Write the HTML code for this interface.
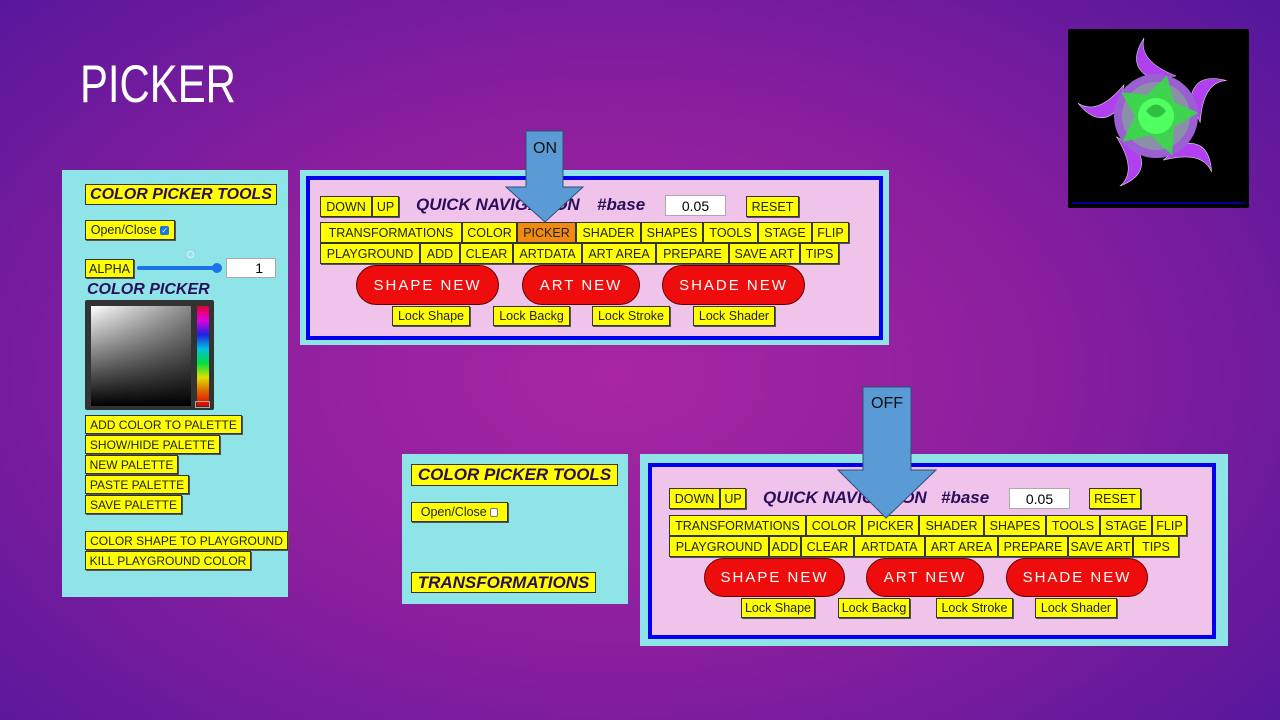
<!DOCTYPE html>
<html><head><meta charset="utf-8"><style>
*{box-sizing:border-box;margin:0;padding:0}
body{width:1280px;height:720px;overflow:hidden;position:relative;font-family:"Liberation Sans",sans-serif;
background:radial-gradient(ellipse 75% 85% at 48% 52%,#a826a2 0%,#8a1f9e 45%,#5c189c 85%,#4e169a 100%)}
.a{position:absolute}
.b{position:absolute;background:#ffff00;border:1.5px solid #333;font-size:12.5px;color:#222;display:flex;align-items:center;justify-content:center;white-space:nowrap;box-shadow:1px 1px 0 #555;overflow:hidden}
.p{position:absolute;background:#ee0c0c;border:1px solid #600;border-radius:20px;color:#fff;font-size:15px;letter-spacing:2px;display:flex;align-items:center;justify-content:center;white-space:nowrap}
.t{position:absolute;font-weight:bold;font-style:italic;color:#2a0e5a;white-space:nowrap}
.in{position:absolute;background:#fff;border:1px solid #aaa;font-size:14px;display:flex;align-items:center;justify-content:center}
.cy{position:absolute;background:#8fe4e8}
.pk{position:absolute;background:#f0c4ea;border:4px solid #0000ee}
.ttl{position:absolute;background:#ffff00;border:1.5px solid #333;font-weight:bold;font-style:italic;color:#2a0e5a;font-size:16px;display:flex;align-items:center;justify-content:center;white-space:nowrap}
</style></head><body>
<div class="a" style="left:80px;top:54px;font-size:53px;color:#fff;transform:scaleX(0.79);transform-origin:left top">PICKER</div>

<!-- art image -->
<div class="a" style="left:1068px;top:29px;width:181px;height:179px;background:#000;border-radius:2px">
<svg width="181" height="179" viewBox="0 0 181 179">
<g transform="translate(88,87)">
<g fill="#b040f0" stroke="#ddd" stroke-width="0.6">
<path d="M-5,-38 Q-30,-50 -12,-78 Q-18,-55 20,-40 Z"/>
<path d="M-5,-38 Q-30,-50 -12,-78 Q-18,-55 20,-40 Z" transform="rotate(72)"/>
<path d="M-5,-38 Q-30,-50 -12,-78 Q-18,-55 20,-40 Z" transform="rotate(144)"/>
<path d="M-5,-38 Q-30,-50 -12,-78 Q-18,-55 20,-40 Z" transform="rotate(216)"/>
<path d="M-5,-38 Q-30,-50 -12,-78 Q-18,-55 20,-40 Z" transform="rotate(288)"/>
</g>
<circle r="42" fill="#9a5fd0"/>
<circle r="34" fill="#8a90a8"/>
<polygon points="0,-42 14,-18 40,-14 20,6 26,34 0,20 -26,34 -20,6 -40,-14 -14,-18" fill="#30e040" opacity="0.85" transform="rotate(15)"/>
<circle r="18" fill="#50ff60"/>
<path d="M-10,-5 Q0,-18 10,-5 Q0,8 -10,-5" fill="#30c040"/>
</g>
<line x1="4" y1="174" x2="177" y2="174" stroke="#0000cc" stroke-width="1.5"/>
</svg></div>

<!-- Left panel -->
<div class="cy" style="left:62px;top:170px;width:226px;height:427px"></div>
<div class="ttl" style="left:85px;top:184px;width:192px;height:21px">COLOR PICKER TOOLS</div>
<div class="b" style="left:85px;top:220px;width:90px;height:20px">Open/Close&nbsp;<span style="display:inline-block;width:9px;height:9px;background:#1a73e8;border-radius:2px;color:#fff;font-size:8px;line-height:9px;text-align:center">✓</span></div>
<div class="a" style="left:187px;top:251px;width:7px;height:7px;border:1px solid #eee;border-radius:50%"></div>
<div class="b" style="left:85px;top:259px;width:49px;height:19px">ALPHA</div>
<div class="a" style="left:137px;top:266px;width:80px;height:4px;background:#1a73e8;border-radius:2px"></div>
<div class="a" style="left:212px;top:263px;width:10px;height:10px;background:#1a73e8;border-radius:50%"></div>
<div class="in" style="left:226px;top:258px;width:50px;height:20px;justify-content:flex-end;padding-right:12px">1</div>
<div class="t" style="left:87px;top:281px;font-size:16px">COLOR PICKER</div>
<div class="a" style="left:85px;top:300px;width:129px;height:110px;background:#333;border-radius:2px"></div>
<div class="a" style="left:91px;top:306px;width:100px;height:100px;background:linear-gradient(to bottom,rgba(0,0,0,0),#000),linear-gradient(to right,#fff,#888)"></div>
<div class="a" style="left:197px;top:306px;width:12px;height:100px;background:linear-gradient(#e00030,#e000e0,#2020e0,#00c0e0,#00e040,#e0e000,#e06000,#e00000)"></div>
<div class="a" style="left:195px;top:401px;width:15px;height:7px;border:1px solid #aaa"></div>
<div class="b" style="left:85px;top:415px;width:157px;height:19px;font-size:12px">ADD COLOR TO PALETTE</div>
<div class="b" style="left:85px;top:435px;width:135px;height:19px;font-size:12px">SHOW/HIDE PALETTE</div>
<div class="b" style="left:85px;top:455px;width:93px;height:19px;font-size:12px">NEW PALETTE</div>
<div class="b" style="left:85px;top:475px;width:104px;height:19px;font-size:12px">PASTE PALETTE</div>
<div class="b" style="left:85px;top:495px;width:97px;height:19px;font-size:12px">SAVE PALETTE</div>
<div class="b" style="left:85px;top:531px;width:203px;height:19px;font-size:12px">COLOR SHAPE TO PLAYGROUND</div>
<div class="b" style="left:85px;top:551px;width:166px;height:19px;font-size:12px">KILL PLAYGROUND COLOR</div>

<!-- Top nav -->
<div class="cy" style="left:300px;top:170px;width:589px;height:175px"></div>
<div class="pk" style="left:306px;top:176px;width:577px;height:164px"></div>
<div class="b" style="left:320px;top:196px;width:52px;height:21px">DOWN</div>
<div class="b" style="left:372px;top:196px;width:27px;height:21px">UP</div>
<div class="t" style="left:416px;top:195px;font-size:17px">QUICK NAVIGATION</div>
<div class="t" style="left:597px;top:195px;font-size:17px">#base</div>
<div class="in" style="left:665px;top:195px;width:61px;height:21px">0.05</div>
<div class="b" style="left:746px;top:196px;width:53px;height:21px">RESET</div>
<div class="b" style="left:320px;top:222px;width:142px;height:21px">TRANSFORMATIONS</div>
<div class="b" style="left:462px;top:222px;width:55px;height:21px">COLOR</div>
<div class="b" style="left:517px;top:222px;width:59px;height:21px;background:#f08a10">PICKER</div>
<div class="b" style="left:576px;top:222px;width:65px;height:21px">SHADER</div>
<div class="b" style="left:641px;top:222px;width:62px;height:21px">SHAPES</div>
<div class="b" style="left:703px;top:222px;width:55px;height:21px">TOOLS</div>
<div class="b" style="left:758px;top:222px;width:54px;height:21px">STAGE</div>
<div class="b" style="left:812px;top:222px;width:37px;height:21px">FLIP</div>
<div class="b" style="left:320px;top:243px;width:100px;height:21px">PLAYGROUND</div>
<div class="b" style="left:420px;top:243px;width:40px;height:21px">ADD</div>
<div class="b" style="left:460px;top:243px;width:53px;height:21px">CLEAR</div>
<div class="b" style="left:513px;top:243px;width:69px;height:21px">ARTDATA</div>
<div class="b" style="left:582px;top:243px;width:74px;height:21px">ART AREA</div>
<div class="b" style="left:656px;top:243px;width:73px;height:21px">PREPARE</div>
<div class="b" style="left:729px;top:243px;width:71px;height:21px">SAVE ART</div>
<div class="b" style="left:800px;top:243px;width:39px;height:21px">TIPS</div>
<div class="p" style="left:356px;top:265px;width:143px;height:40px">SHAPE NEW</div>
<div class="p" style="left:522px;top:265px;width:118px;height:40px">ART NEW</div>
<div class="p" style="left:662px;top:265px;width:143px;height:40px">SHADE NEW</div>
<div class="b" style="left:392px;top:306px;width:78px;height:20px">Lock Shape</div>
<div class="b" style="left:493px;top:306px;width:77px;height:20px">Lock Backg</div>
<div class="b" style="left:592px;top:306px;width:78px;height:20px">Lock Stroke</div>
<div class="b" style="left:693px;top:306px;width:82px;height:20px">Lock Shader</div>
<svg class="a" style="left:0;top:0" width="1280" height="720">
<path d="M526,131 H563 V187 H583 L545,222 L506,187 H526 Z" fill="#5b9bd5" stroke="#2e4f7a" stroke-width="1"/>
<text x="545" y="153" font-size="16" text-anchor="middle" font-family="Liberation Sans, sans-serif" fill="#111">ON</text>
</svg>

<!-- lower left panel -->
<div class="cy" style="left:402px;top:454px;width:226px;height:150px"></div>
<div class="ttl" style="left:411px;top:464px;width:207px;height:22px;font-size:17px">COLOR PICKER TOOLS</div>
<div class="b" style="left:411px;top:502px;width:97px;height:20px">Open/Close&nbsp;<span style="display:inline-block;width:8px;height:9px;background:#fff;border:1px solid #777;border-radius:2px"></span></div>
<div class="ttl" style="left:411px;top:572px;width:185px;height:21px;font-size:17px">TRANSFORMATIONS</div>

<!-- bottom nav -->
<div class="cy" style="left:640px;top:454px;width:588px;height:192px"></div>
<div class="pk" style="left:648px;top:463px;width:568px;height:176px"></div>
<div class="b" style="left:669px;top:488px;width:51px;height:21px">DOWN</div>
<div class="b" style="left:720px;top:488px;width:26px;height:21px">UP</div>
<div class="t" style="left:763px;top:488px;font-size:17px">QUICK NAVIGATION</div>
<div class="t" style="left:941px;top:488px;font-size:17px">#base</div>
<div class="in" style="left:1009px;top:488px;width:61px;height:21px">0.05</div>
<div class="b" style="left:1089px;top:488px;width:52px;height:21px">RESET</div>
<div class="b" style="left:669px;top:515px;width:137px;height:21px">TRANSFORMATIONS</div>
<div class="b" style="left:806px;top:515px;width:56px;height:21px">COLOR</div>
<div class="b" style="left:862px;top:515px;width:57px;height:21px">PICKER</div>
<div class="b" style="left:919px;top:515px;width:65px;height:21px">SHADER</div>
<div class="b" style="left:984px;top:515px;width:62px;height:21px">SHAPES</div>
<div class="b" style="left:1046px;top:515px;width:54px;height:21px">TOOLS</div>
<div class="b" style="left:1100px;top:515px;width:52px;height:21px">STAGE</div>
<div class="b" style="left:1152px;top:515px;width:35px;height:21px">FLIP</div>
<div class="b" style="left:669px;top:536px;width:100px;height:21px">PLAYGROUND</div>
<div class="b" style="left:769px;top:536px;width:32px;height:21px">ADD</div>
<div class="b" style="left:801px;top:536px;width:53px;height:21px">CLEAR</div>
<div class="b" style="left:854px;top:536px;width:71px;height:21px">ARTDATA</div>
<div class="b" style="left:925px;top:536px;width:73px;height:21px">ART AREA</div>
<div class="b" style="left:998px;top:536px;width:70px;height:21px">PREPARE</div>
<div class="b" style="left:1068px;top:536px;width:65px;height:21px">SAVE ART</div>
<div class="b" style="left:1133px;top:536px;width:46px;height:21px">TIPS</div>
<div class="p" style="left:704px;top:558px;width:141px;height:39px">SHAPE NEW</div>
<div class="p" style="left:866px;top:558px;width:118px;height:39px">ART NEW</div>
<div class="p" style="left:1006px;top:558px;width:142px;height:39px">SHADE NEW</div>
<div class="b" style="left:741px;top:598px;width:74px;height:20px">Lock Shape</div>
<div class="b" style="left:838px;top:598px;width:72px;height:20px">Lock Backg</div>
<div class="b" style="left:936px;top:598px;width:77px;height:20px">Lock Stroke</div>
<div class="b" style="left:1035px;top:598px;width:82px;height:20px">Lock Shader</div>
<svg class="a" style="left:0;top:0" width="1280" height="720">
<path d="M863,387 H911 V470 H936 L886,518 L838,470 H863 Z" fill="#5b9bd5" stroke="#2e4f7a" stroke-width="1"/>
<text x="887" y="408" font-size="16" text-anchor="middle" font-family="Liberation Sans, sans-serif" fill="#111">OFF</text>
</svg>
</body></html>
